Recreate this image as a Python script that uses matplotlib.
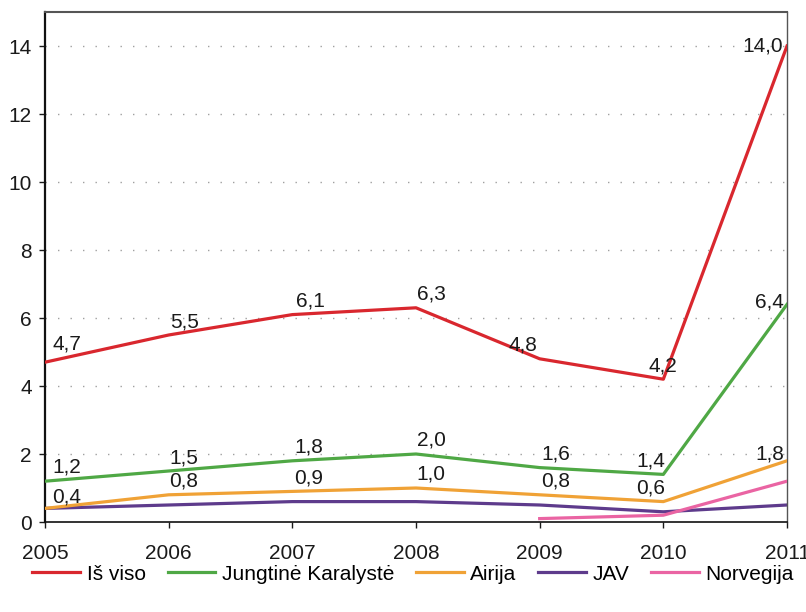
import matplotlib.pyplot as plt

plt.rcParams["font.family"] = ["Liberation Sans", "DejaVu Sans"]

years = [2005, 2006, 2007, 2008, 2009, 2010, 2011]
is_viso = [4.7, 5.5, 6.1, 6.3, 4.8, 4.2, 14.0]
jungtine_karalyste = [1.2, 1.5, 1.8, 2.0, 1.6, 1.4, 6.4]
airija = [0.4, 0.8, 0.9, 1.0, 0.8, 0.6, 1.8]
jav = [0.4, 0.5, 0.6, 0.6, 0.5, 0.3, 0.5]
norvegija_years = [2009, 2010, 2011]
norvegija = [0.1, 0.2, 1.2]

red = "#d9272e"
green = "#4fa845"
orange = "#f0a236"
purple = "#5e3b8c"
pink = "#ea64a3"

fig = plt.figure(figsize=(8.06, 6.12), dpi=100)
ax = fig.add_axes([45 / 806, 1 - 522 / 612, (787 - 45) / 806, (522 - 12) / 612])

lw = 2.3
ax.plot(years, is_viso, color=red, lw=lw, label="Iš viso", zorder=5)
ax.plot(years, jungtine_karalyste, color=green, lw=lw, label="Jungtinė Karalystė", zorder=4)
ax.plot(years, airija, color=orange, lw=lw, label="Airija", zorder=3)
ax.plot(years, jav, color=purple, lw=lw, label="JAV", zorder=2)
ax.plot(norvegija_years, norvegija, color=pink, lw=lw, label="Norvegija", zorder=3)


def label_points(values, dxs, first_dy, last_dy):
    # value labels in pixel offsets, Lithuanian decimal comma
    for i, (x, v) in enumerate(zip(years, values)):
        txt = f"{v:.1f}".replace(".", ",")
        if i == 0:
            ha, dy = "left", first_dy
        elif i == len(values) - 1:
            ha, dy = "right", last_dy
        else:
            ha, dy = "center", 4
        ax.annotate(txt, (x, v), xytext=(dxs[i], dy), textcoords="offset pixels",
                    ha=ha, va="bottom", fontsize=15, color="#1a1a1a", zorder=6)


label_points(is_viso, [7, 16, 18, 15, -17, 0, -4], 9, -9)
label_points(jungtine_karalyste, [7, 15, 16, 15, 16, -13, -3], 5, -7)
label_points(airija, [7, 15, 16, 15, 16, -13, -3], 2, -3)

ax.set_xlim(2005, 2011)
ax.set_ylim(0, 15)
ax.set_xticks(years)
ax.set_yticks(range(0, 15, 2))
ax.tick_params(axis="x", direction="out", length=4.5, width=1, pad=11, labelsize=15, colors="#1a1a1a")
ax.tick_params(axis="y", direction="out", length=4.5, width=1, pad=5, labelsize=15, colors="#1a1a1a")

for y in range(2, 15, 2):
    ax.axhline(y, color="#a0a0a0", lw=1, ls=(0, (1, 8)), zorder=1)

ax.spines["left"].set_color("#111111")
ax.spines["left"].set_linewidth(1.6)
ax.spines["bottom"].set_color("#111111")
ax.spines["bottom"].set_linewidth(1.2)
ax.spines["top"].set_color("#555555")
ax.spines["top"].set_linewidth(1.5)
ax.spines["right"].set_color("#555555")
ax.spines["right"].set_linewidth(1.0)

fig.legend(loc="center", bbox_to_anchor=(413 / 806, 1 - 574 / 612), ncol=5,
           frameon=False, fontsize=15, handlelength=2.3, handletextpad=0.3,
           columnspacing=1.05)

fig.savefig("out.png", dpi=100)
